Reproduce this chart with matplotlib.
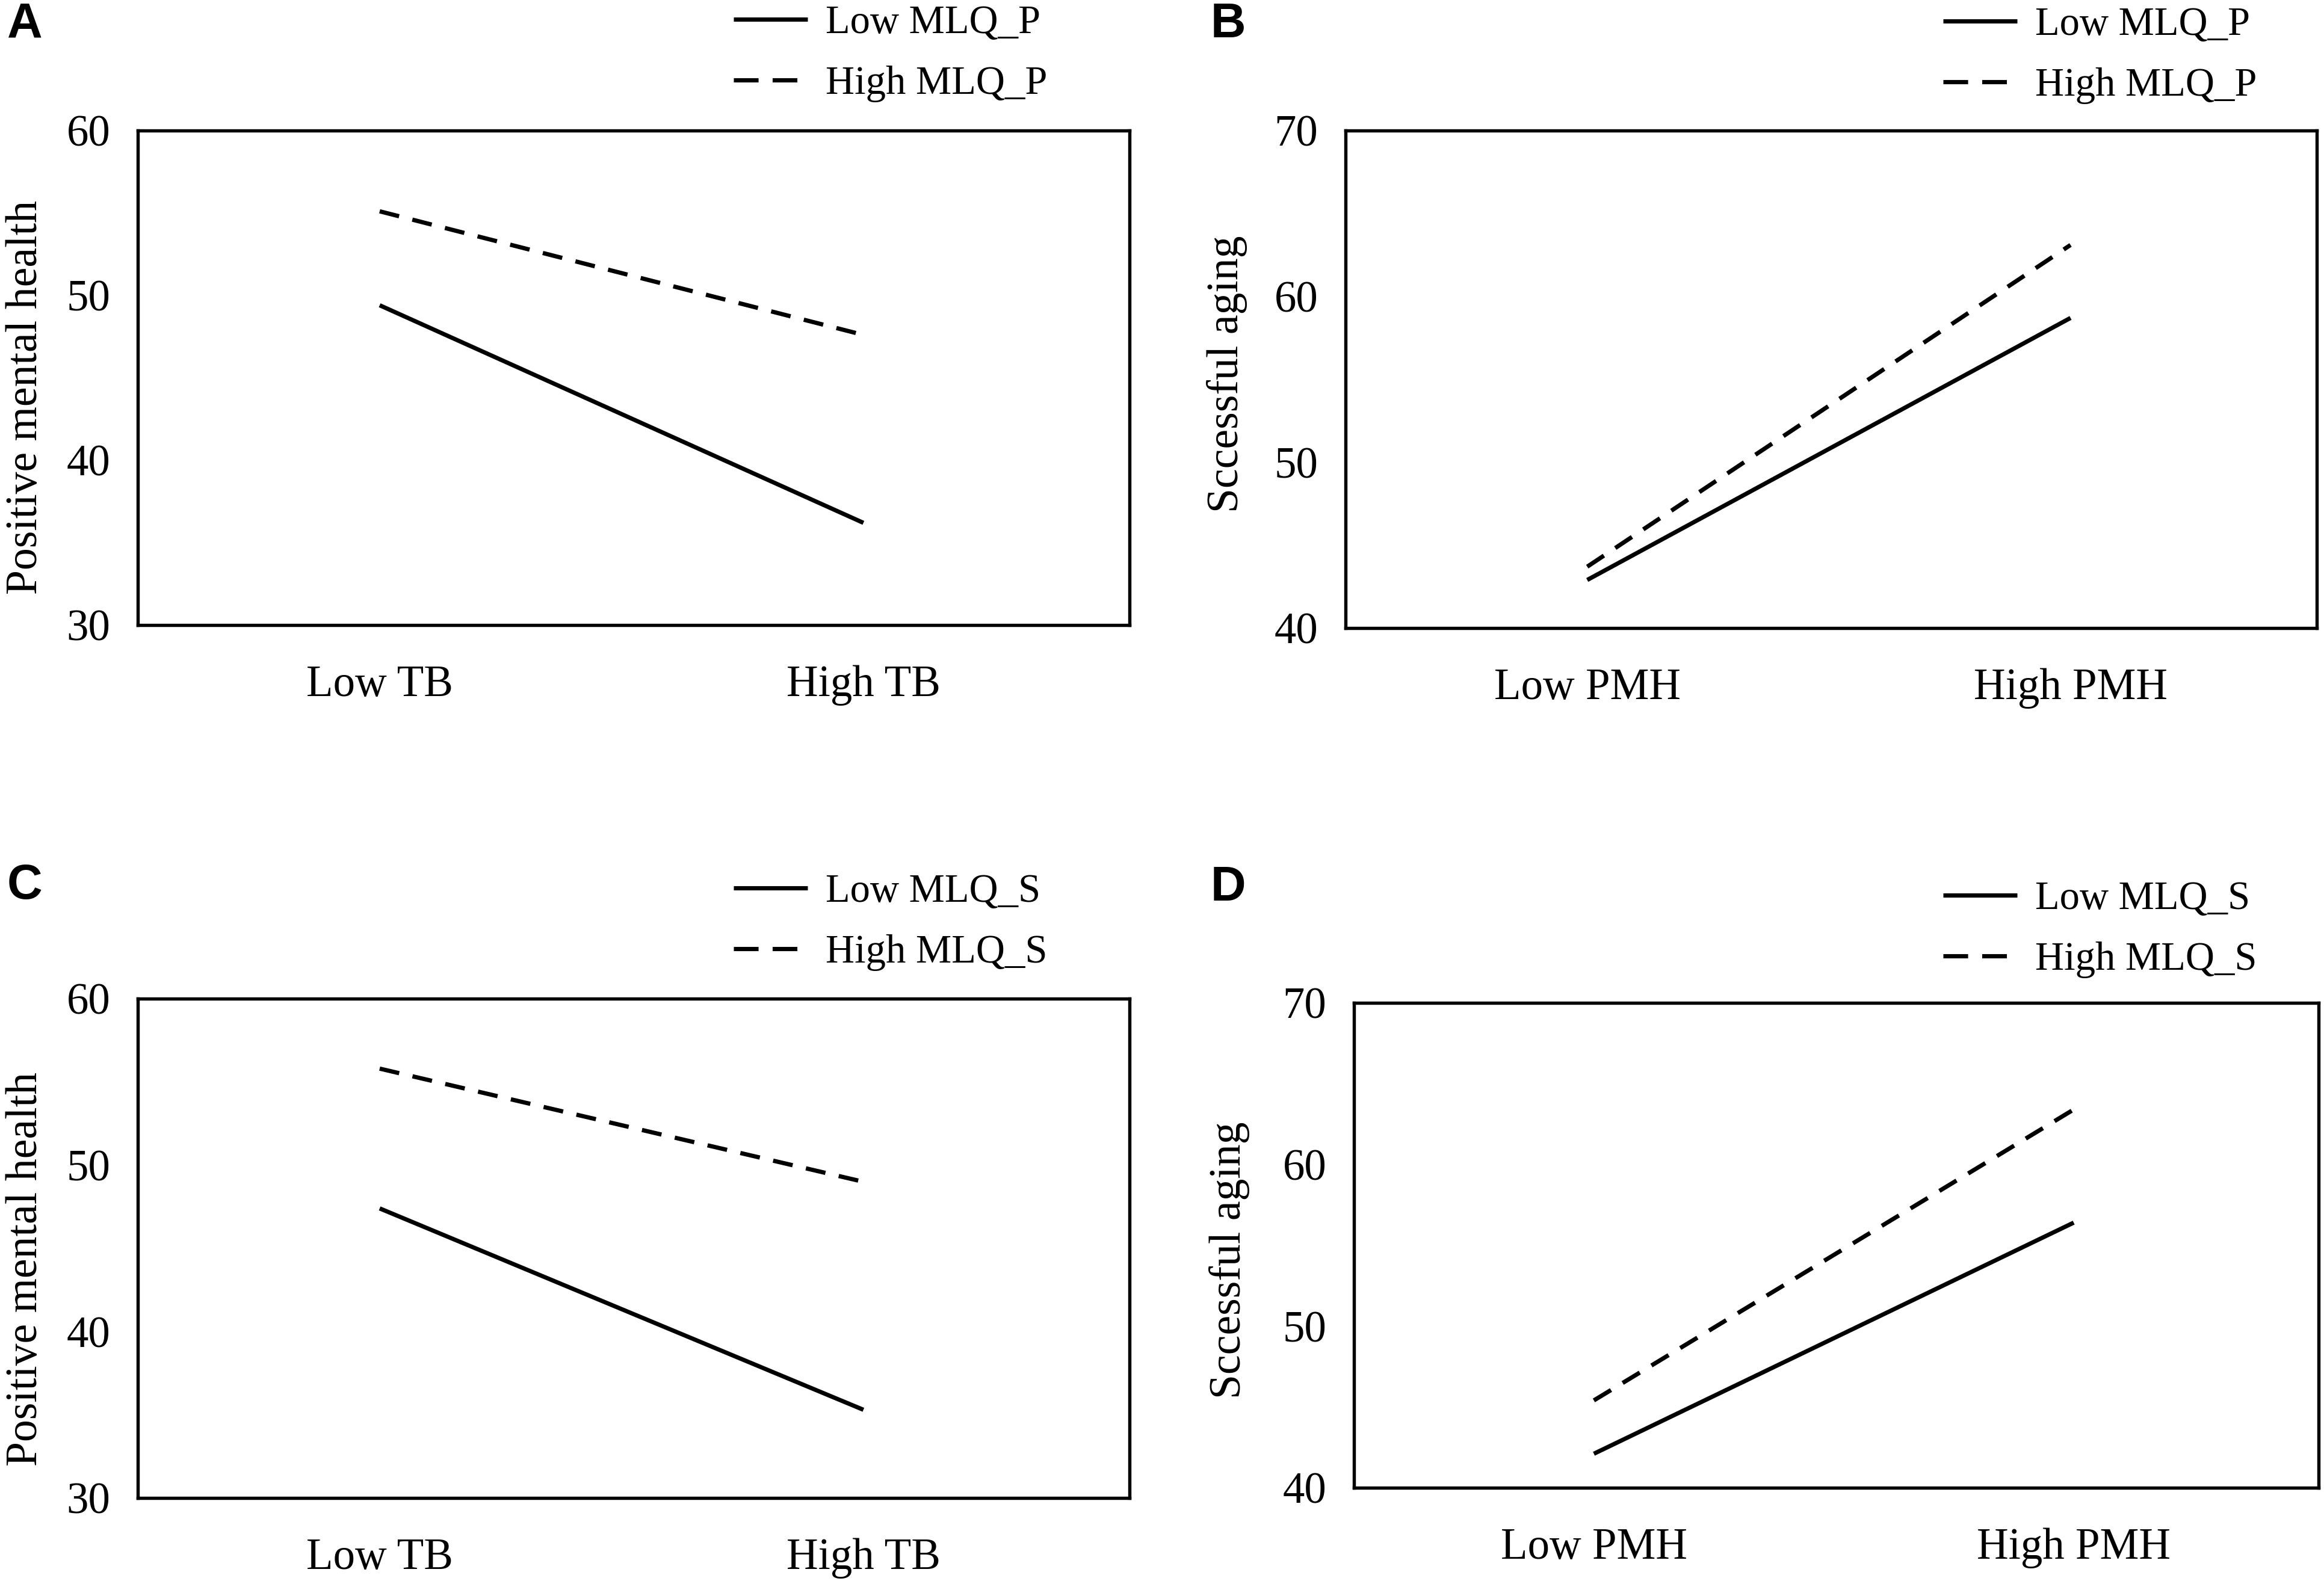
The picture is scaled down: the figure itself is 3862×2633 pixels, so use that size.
import numpy as np
from matplotlib import pyplot as plt
from matplotlib.lines import Line2D

###############################################################################
# Data
###############################################################################

tb_levels = ['Low TB', 'High TB']
pmh_levels = ['Low PMH', 'High PMH']

# A: TB -> positive mental health, moderated by MLQ_P
a_low = [49.4, 36.2]
a_high = [55.1, 47.6]

# B: PMH -> successful aging, moderated by MLQ_P
b_low = [42.9, 58.7]
b_high = [43.7, 63.1]

# C: TB -> positive mental health, moderated by MLQ_S
c_low = [47.4, 35.3]
c_high = [55.8, 49.0]

# D: PMH -> successful aging, moderated by MLQ_S
d_low = [42.1, 56.4]
d_high = [45.4, 63.4]

pmh_ticks = [30, 40, 50, 60]
aging_ticks = [40, 50, 60, 70]

###############################################################################
# Plotting
###############################################################################

plt.rcParams.update({'font.family': 'Liberation Serif',
                     'font.size': 16})

fig = plt.figure(figsize=(3862 / 300, 2633 / 300), dpi=300)

# axes boxes [left, bottom, width, height] in figure fraction
boxes = {'A': [0.0593, 0.6054, 0.4267, 0.3122],
         'B': [0.5790, 0.6035, 0.4180, 0.3141],
         'C': [0.0593, 0.0543, 0.4267, 0.3152],
         'D': [0.5826, 0.0608, 0.4150, 0.3061]}

panels = [('A', tb_levels, a_low, a_high, pmh_ticks, 'Positive mental health', 'MLQ_P'),
          ('B', pmh_levels, b_low, b_high, aging_ticks, 'Sccessful aging', 'MLQ_P'),
          ('C', tb_levels, c_low, c_high, pmh_ticks, 'Positive mental health', 'MLQ_S'),
          ('D', pmh_levels, d_low, d_high, aging_ticks, 'Sccessful aging', 'MLQ_S')]

# legend anchors (figure fraction, upper left), letter positions, ylabel pos
leg_pos = {'A': (0.3156, 0.997), 'B': (0.836, 0.9958),
           'C': (0.3156, 0.4485), 'D': (0.836, 0.444)}
letter_pos = {'A': (0.003, 0.999), 'B': (0.521, 0.999),
              'C': (0.003, 0.455), 'D': (0.521, 0.454)}
ylab_xy = {'A': (-0.092, 0.46), 'B': (-0.101, 0.51),
           'C': (-0.092, 0.458), 'D': (-0.108, 0.469)}
xright = {'A': 1.55, 'B': 1.51, 'C': 1.55, 'D': 1.51}

dash = (0, (4.7, 3.2))
# legend key shows two longer dashes
h_solid = Line2D([], [], color='black', lw=1.7, solid_capstyle='butt')
h_dash = Line2D([], [], color='black', lw=1.7, linestyle=(0, (5.8, 3.3)))

for key, levels, low, high, yticks, ylab, mod in panels:
    ax = fig.add_axes(boxes[key])
    x = np.arange(len(levels))
    ax.plot(x, low, color='black', lw=1.7, solid_capstyle='butt')
    ax.plot(x, high, color='black', lw=1.7, linestyle=dash)

    ax.set_xlim(-0.5, xright[key])
    ax.set_ylim(yticks[0], yticks[-1])
    ax.set_xticks(x)
    ax.set_xticklabels(levels, fontsize=17.5)
    ax.set_yticks(yticks)
    ax.tick_params(axis='y', length=0, pad=11, labelsize=17.5)
    ax.tick_params(axis='x', length=0, pad=16)
    for s in ax.spines.values():
        s.set_linewidth(1.3)

    ax.set_ylabel(ylab, fontsize=17.7)
    ax.yaxis.set_label_coords(*ylab_xy[key])

    fig.legend([h_solid, h_dash], ['Low ' + mod, 'High ' + mod],
               loc='upper left', bbox_to_anchor=leg_pos[key],
               frameon=False, handlelength=1.85, handletextpad=0.45,
               labelspacing=0.6, fontsize=16, borderpad=0, borderaxespad=0)

    fig.text(letter_pos[key][0], letter_pos[key][1], key,
             family='Liberation Sans', weight='bold', fontsize=19.5,
             va='top', ha='left')

fig.savefig('out.png', dpi=300)
